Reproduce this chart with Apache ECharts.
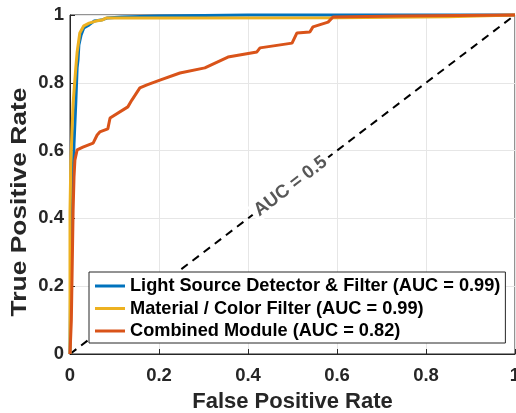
<!DOCTYPE html>
<html>
<head>
<meta charset="utf-8">
<script src="https://cdn.jsdelivr.net/npm/echarts@6/dist/echarts.min.js"></script>
<style>html,body{margin:0;padding:0;background:#fff;}#c{width:516px;height:413px;}</style>
</head>
<body>
<div id="c"></div>
<script>
const xTicks = [0, 0.2, 0.4, 0.6, 0.8, 1];
const seriesNames = ['Light Source Detector & Filter (AUC = 0.99)', 'Material / Color Filter (AUC = 0.99)', 'Combined Module (AUC = 0.82)'];
const lightFPR = [0, 0.002, 0.004, 0.007, 0.009, 0.013, 0.016, 0.018, 0.020, 0.025, 0.031, 0.043, 0.054, 0.070, 0.083, 0.117, 0.2, 0.4, 1];
const lightTPR = [0, 0.30, 0.45, 0.52, 0.62, 0.74, 0.844, 0.867, 0.912, 0.941, 0.962, 0.971, 0.982, 0.985, 0.991, 0.994, 0.997, 1, 1];
const matFPR = [0, 0, 0.002, 0.007, 0.013, 0.016, 0.022, 0.031, 0.043, 0.058, 0.072, 0.081, 0.2, 0.6, 0.85, 1];
const matTPR = [0, 0.42, 0.572, 0.74, 0.844, 0.89, 0.947, 0.968, 0.976, 0.982, 0.985, 0.991, 0.991, 0.992, 0.995, 1];
const combFPR = [0, 0.003, 0.007, 0.009, 0.011, 0.016, 0.029, 0.052, 0.061, 0.067, 0.085, 0.090, 0.130, 0.139, 0.157, 0.173, 0.202, 0.247, 0.303, 0.355, 0.420, 0.427, 0.499, 0.510, 0.539, 0.546, 0.580, 0.591, 0.742, 1];
const combTPR = [0, 0.1, 0.425, 0.522, 0.572, 0.602, 0.610, 0.622, 0.646, 0.655, 0.664, 0.696, 0.729, 0.749, 0.785, 0.794, 0.808, 0.829, 0.844, 0.876, 0.891, 0.903, 0.917, 0.947, 0.950, 0.965, 0.979, 0.994, 0.997, 1];
const chanceFPR = [0, 1];
const chanceTPR = [0, 1];
const chanceLabel = 'AUC = 0.5';

const zip = (a, b) => a.map((v, i) => [v, b[i]]);
const FONT = '"Liberation Sans", Arial, Helvetica, sans-serif';
const TXT = '#262626';

const chart = echarts.init(document.getElementById('c'), null, {renderer: 'canvas'});
chart.setOption({
  animation: false,
  backgroundColor: '#fff',
  textStyle: {fontFamily: FONT},
  grid: {left: 70, right: 1, top: 15, bottom: 59, outerBoundsMode: 'none', containLabel: false, show: true, borderColor: '#262626', borderWidth: 1, backgroundColor: 'transparent'},
  xAxis: {
    type: 'value', min: 0, max: 1, interval: 0.2,
    name: 'False Positive Rate', nameLocation: 'middle', nameGap: 37,
    nameTextStyle: {fontSize: 22, fontWeight: 'bold', color: TXT, fontFamily: FONT},
    axisLine: {show: true, lineStyle: {color: '#262626', width: 1}},
    axisTick: {show: true, inside: true, length: 5, lineStyle: {color: '#262626'}},
    axisLabel: {fontSize: 18.5, fontWeight: 'bold', color: TXT, margin: 12, fontFamily: FONT},
    splitLine: {show: true, lineStyle: {color: '#e6e6e6', width: 1}}
  },
  yAxis: {
    type: 'value', min: 0, max: 1, interval: 0.2,
    axisLine: {show: true, lineStyle: {color: '#262626', width: 1}},
    axisTick: {show: true, inside: true, length: 5, lineStyle: {color: '#262626'}},
    axisLabel: {fontSize: 18.5, fontWeight: 'bold', color: TXT, margin: 6, fontFamily: FONT},
    splitLine: {show: true, lineStyle: {color: '#e6e6e6', width: 1}}
  },
  graphic: [{
    type: 'text', x: 20, y: 202, rotation: Math.PI / 2, scaleX: 1.2, scaleY: 1,
    style: {text: 'True Positive Rate', font: 'bold 22px ' + FONT, fill: TXT, textAlign: 'center', textVerticalAlign: 'middle'}
  }],
  legend: {
    data: seriesNames,
    orient: 'vertical', left: 89, top: 272,
    backgroundColor: '#fff', borderColor: '#262626', borderWidth: 1,
    padding: [5, 5, 3, 6],
    icon: 'rect',
    itemWidth: 30, itemHeight: 3, itemGap: 4.5,
    textStyle: {fontSize: 18.2, fontWeight: 'bold', color: '#000', fontFamily: FONT}
  },
  series: [
    {
      type: 'line', name: 'chance', data: zip(chanceFPR, chanceTPR), symbol: 'none', clip: false,
      lineStyle: {color: '#000', width: 2, type: [8, 6]}, silent: true, z: 1
    },
    {
      type: 'scatter', name: 'chanceLabel', data: [[0.497, 0.493]], symbolSize: 1, silent: true, z: 3,
      itemStyle: {opacity: 0},
      label: {show: true, position: [0, 0], align: 'center', verticalAlign: 'middle', formatter: chanceLabel, rotate: 37.3,
        color: '#575757', fontSize: 18.5, fontWeight: 'bold', fontFamily: FONT, opacity: 1,
        backgroundColor: '#fff', padding: [0, 4]}
    },
    {
      type: 'line', name: seriesNames[0], data: zip(lightFPR, lightTPR), symbol: 'none', clip: false,
      lineStyle: {color: '#0072BD', width: 3}, itemStyle: {color: '#0072BD'}, z: 4
    },
    {
      type: 'line', name: seriesNames[1], data: zip(matFPR, matTPR), symbol: 'none', clip: false,
      lineStyle: {color: '#EDB120', width: 3}, itemStyle: {color: '#EDB120'}, z: 5
    },
    {
      type: 'line', name: seriesNames[2], data: zip(combFPR, combTPR), symbol: 'none', clip: false,
      lineStyle: {color: '#D95319', width: 3}, itemStyle: {color: '#D95319'}, z: 6
    }
  ]
});
</script>
</body>
</html>
